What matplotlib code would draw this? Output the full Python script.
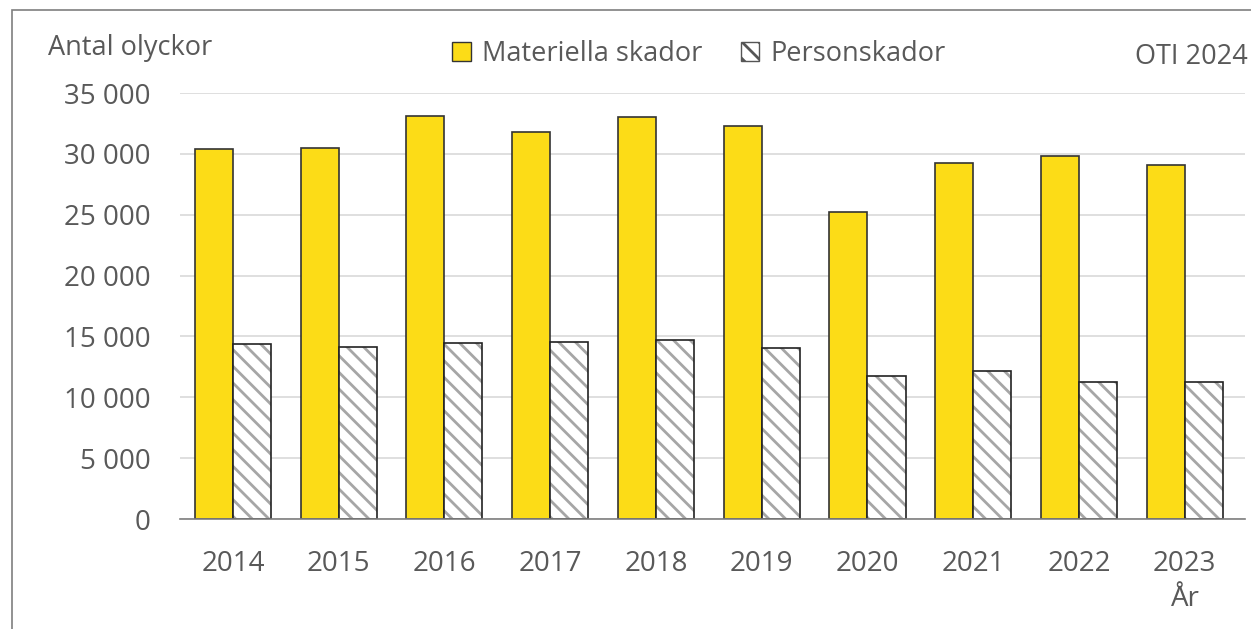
import matplotlib
matplotlib.use("Agg")
import matplotlib.pyplot as plt
from matplotlib.patches import Patch, Rectangle
import numpy as np

# data
years = ["2014", "2015", "2016", "2017", "2018", "2019", "2020", "2021", "2022", "2023"]
materiella = [30400, 30480, 33110, 31800, 33030, 32290, 25230, 29250, 29830, 29090]
personskador = [14380, 14130, 14460, 14540, 14710, 14050, 11750, 12160, 11260, 11260]

plt.rcParams['font.family'] = ['Open Sans', 'DejaVu Sans']
plt.rcParams['hatch.linewidth'] = 2.0
TXT = '#595959'
YELLOW = '#FCDC17'

fig = plt.figure(figsize=(12.51, 6.29), dpi=100)
ax = fig.add_axes([180/1251, 1-519/629, (1245-180)/1251, (519-93)/629])

x = np.arange(len(years))
w = 0.36

ax.bar(x - w/2, materiella, w, color=YELLOW, edgecolor='#333333', linewidth=1.2, zorder=3)
# hatch first (gray lines), then black outline on top
ax.bar(x + w/2, personskador, w, color='white', edgecolor='#a6a6a6', hatch='\\\\', linewidth=0, zorder=3)
ax.bar(x + w/2, personskador, w, color='none', edgecolor='#222222', linewidth=1.2, zorder=4)

ax.set_ylim(0, 35000)
ax.set_xlim(-0.5, 9.57)
ax.set_yticks(range(0, 35001, 5000))
ax.set_yticklabels([f"{v:,}".replace(",", " ") for v in range(0, 35001, 5000)])
ax.set_xticks(x)
ax.set_xticklabels(years)
ax.tick_params(axis='both', length=0, labelsize=20, labelcolor=TXT)
ax.tick_params(axis='y', pad=21)
ax.tick_params(axis='x', pad=22)
ax.grid(axis='y', color='#d9d9d9', linewidth=1.2, zorder=0)
ax.set_axisbelow(True)
for s in ['top', 'right', 'left']:
    ax.spines[s].set_visible(False)
ax.spines['bottom'].set_color('#7f7f7f')
ax.spines['bottom'].set_linewidth(1.2)
ax.spines['bottom'].set_zorder(5)

fig.text(48/1251, 1-48/629, "Antal olyckor", fontsize=19.5, color=TXT, va='center', ha='left')
fig.text(1248/1251, 1-57/629, "OTI 2024", fontsize=19.5, color=TXT, va='center', ha='right')
fig.text(1185/1251, 1-599/629, "År", fontsize=20, color=TXT, va='center', ha='center')

handles = [Patch(facecolor=YELLOW, edgecolor='#333333', linewidth=1.0),
           Patch(facecolor='white', edgecolor='#555555', hatch='\\\\', linewidth=1.0)]
fig.legend(handles, ["Materiella skador", "Personskador"], loc='center',
           bbox_to_anchor=(699/1251, 1-54/629), ncol=2, frameon=False,
           fontsize=19.5, labelcolor=TXT, handlelength=0.7, handleheight=0.7,
           handletextpad=0.4, columnspacing=1.4)

# frame around the figure (top and left visible)
fig.patches.append(Rectangle((12/1251, -0.05), 1.1, 1-10/629 + 0.05,
                             transform=fig.transFigure, fill=False,
                             edgecolor='#7f7f7f', linewidth=1.2))

fig.savefig("out.png", dpi=100)
